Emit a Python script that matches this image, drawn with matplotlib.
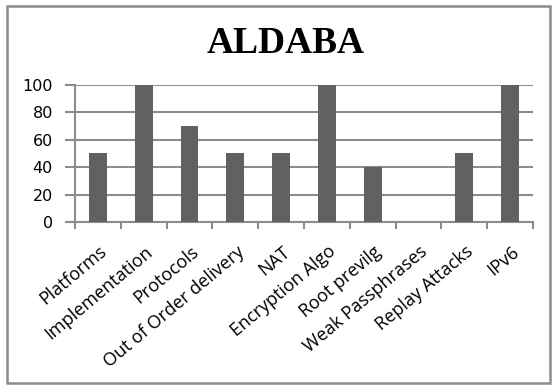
import matplotlib
matplotlib.use('Agg')

import matplotlib.pyplot as plt
from matplotlib.patches import Rectangle
import numpy as np

categories = ["Platforms", "Implementation", "Protocols", "Out of Order delivery",
              "NAT", "Encryption Algo", "Root previlg", "Weak Passphrases",
              "Replay Attacks", "IPv6"]
values = [50, 100, 70, 50, 50, 100, 40, 0, 50, 100]
y_ticks = [0, 20, 40, 60, 80, 100]

fig = plt.figure(figsize=(5.56, 3.87), dpi=100)
ax = fig.add_axes([0.1349, 0.4264, 0.8237, 0.354])

# outer chart border
fig.patches.append(Rectangle((7 / 556, 4 / 387), 543 / 556, 377 / 387,
                             transform=fig.transFigure, fill=False,
                             edgecolor="#8c8c8c", linewidth=1.8))

x = np.arange(len(categories))
ax.bar(x, values, width=0.39, color="#616161", zorder=3)

ax.set_xlim(-0.5, len(categories) - 0.5)
ax.set_ylim(0, 100)
ax.set_yticks(y_ticks)
ax.set_yticklabels([str(v) for v in y_ticks], fontsize=11.5, family="DejaVu Sans")
ax.yaxis.grid(True, color="#8c8c8c", linewidth=1.5, zorder=0)

# category boundary ticks, Excel style
ax.set_xticks(np.arange(len(categories) + 1) - 0.5)
ax.set_xticklabels([])
ax.tick_params(axis="x", length=5, width=1.5, color="#8c8c8c", direction="out")
ax.tick_params(axis="y", length=7, width=1.5, color="#8c8c8c", direction="out", pad=9)
for i, lab in enumerate(categories):
    ax.text(i + 0.02, -15, lab, rotation=40, ha="right", va="top",
            rotation_mode="anchor", fontsize=13, family="Open Sans")

for s in ["top", "right"]:
    ax.spines[s].set_visible(False)
for s in ["left", "bottom"]:
    ax.spines[s].set_color("#8c8c8c")
    ax.spines[s].set_linewidth(1.5)

fig.text(0.513, 1 - 53 / 387, "ALDABA", ha="center", va="baseline", fontsize=27,
         fontweight="bold", family="Liberation Serif")

fig.savefig("out.png", dpi=100)
plt.close(fig)
